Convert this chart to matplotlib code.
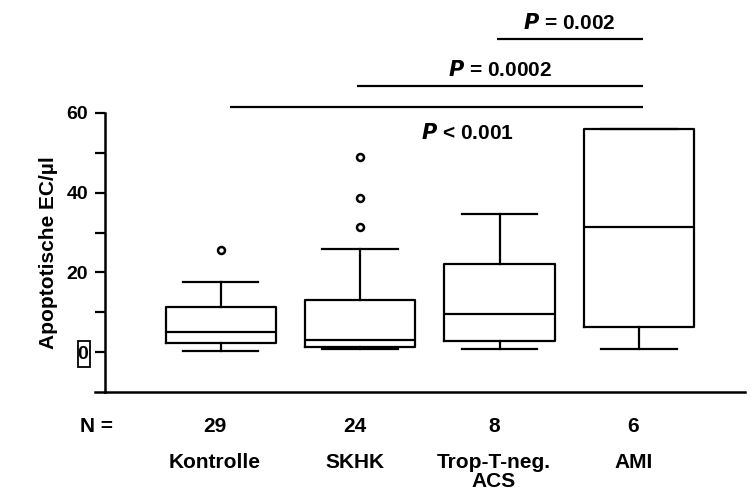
import numpy as np
import matplotlib
matplotlib.use("Agg")
import matplotlib.pyplot as plt
from matplotlib.lines import Line2D
from matplotlib.patches import Rectangle

plt.rcParams['font.family'] = ['Liberation Sans', 'DejaVu Sans']
plt.rcParams['font.weight'] = 'bold'

# data
groups = ['Kontrolle', 'SKHK', 'Trop-T-neg.\nACS', 'AMI']
n_counts = [29, 24, 8, 6]
medians = [5.2, 3.1, 9.6, 31.3]
q1 = [2.3, 1.25, 2.9, 6.4]
q3 = [11.4, 13.1, 22.1, 56.0]
whis_lo = [0.4, 0.75, 0.75, 0.75]
whis_hi = [17.7, 26.0, 34.6, 56.0]
fliers = [[25.6], [31.5, 38.6, 49.0], [], []]

# comparisons: (from group, to group, label)
comparisons = [(0, 3, '< 0.001'), (1, 3, '= 0.0002'), (2, 3, '= 0.002')]

W, H = 751, 495
fig = plt.figure(figsize=(W / 100, H / 100), dpi=100)
ax = fig.add_axes([105 / W, (H - 391.7) / H, 640 / W, 279 / H])

stats = []
for i in range(len(groups)):
    stats.append(dict(med=medians[i], q1=q1[i], q3=q3[i],
                      whislo=whis_lo[i], whishi=whis_hi[i],
                      fliers=fliers[i]))

pos = np.arange(1, len(groups) + 1)
lw = 1.6
ax.bxp(stats, positions=pos, widths=0.79, capwidths=0.54,
       boxprops=dict(color='black', linewidth=lw),
       medianprops=dict(color='black', linewidth=lw),
       whiskerprops=dict(color='black', linewidth=lw),
       capprops=dict(color='black', linewidth=lw),
       flierprops=dict(marker='o', markersize=5, markerfacecolor='white',
                       markeredgecolor='black', markeredgewidth=1.8))

ax.set_xlim(0.171, 4.76)
ax.set_ylim(-9.85, 60)

for s in ['top', 'right']:
    ax.spines[s].set_visible(False)
for s in ['left', 'bottom']:
    ax.spines[s].set_linewidth(1.8)
ax.spines['left'].set_bounds(-9.85, 60)
# bottom rule sticks out a little to the left of the y axis
ax.add_line(Line2D([-0.016, 0], [0, 0], transform=ax.transAxes,
                   color='black', linewidth=1.8, clip_on=False))

ax.set_xticks([])
ax.set_yticks([0, 20, 40, 60])
ax.set_yticks([10, 30, 50], minor=True)
ax.tick_params(axis='y', which='both', direction='out', length=7,
               width=1.6, labelsize=14, pad=5)
for lab in ax.get_yticklabels():
    lab.set_fontweight('bold')

# the "0" label has a frame round it in the original
fig.add_artist(Rectangle((78 / W, 1 - 367 / H), 12 / W, 26 / H,
                         transform=fig.transFigure, fill=False,
                         edgecolor='black', linewidth=1.3))

ax.set_ylabel('Apoptotische EC/µl', fontsize=15, fontweight='bold', labelpad=6)

# N row and group names below the axis
def fig_y(py):
    return 1 - py / H

trans = matplotlib.transforms.blended_transform_factory(ax.transData, fig.transFigure)
fig.text(96 / W, fig_y(426), 'N =', ha='center', va='center',
         fontsize=15, fontweight='bold')
for i, g in enumerate(groups):
    ax.text(pos[i] - 0.04, fig_y(426), str(n_counts[i]), transform=trans,
            ha='center', va='center', fontsize=15, fontweight='bold')
    ax.text(pos[i] - 0.04, fig_y(453), g, transform=trans,
            ha='center', va='top', fontsize=15, fontweight='bold',
            linespacing=1.0)

# significance bars above the boxes
bar_y = [61.4, 66.6, 78.5]
text_y = [54.9, 70.8, 82.5]
text_x = [2.77, 3.0, 3.5]
for (a, b, lab), by, ty, tx in zip(comparisons, bar_y, text_y, text_x):
    x0 = pos[a] + 0.07 if a == 0 else pos[a] - 0.02
    ax.plot([x0, pos[b] + 0.03], [by, by], color='black', linewidth=1.6,
            clip_on=False, solid_capstyle='butt')
    ax.text(tx, ty, r'$\bfit{P}$ ' + lab, ha='center', va='center',
            fontsize=15, fontweight='bold', clip_on=False)

fig.savefig('out.png', dpi=100)
